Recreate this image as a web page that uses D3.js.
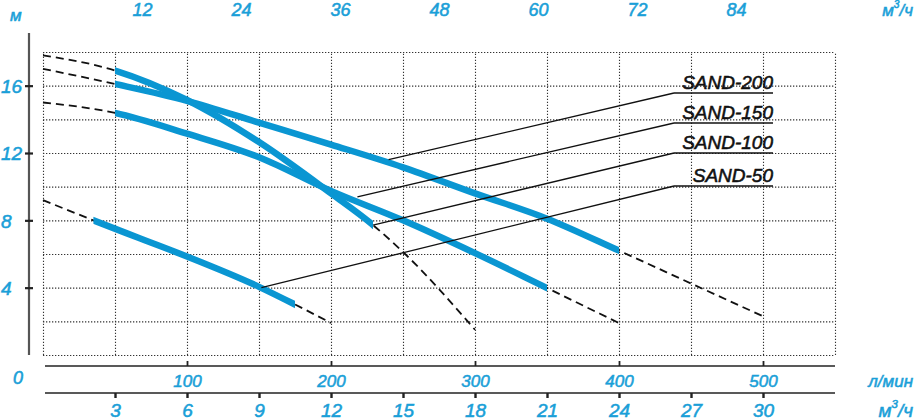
<!DOCTYPE html>
<html><head><meta charset="utf-8">
<script src="https://cdn.jsdelivr.net/npm/d3@7"></script>
<style>
body{margin:0;background:#fff}
text{font-family:"Liberation Sans",Arial,sans-serif;font-style:italic}
</style>
</head><body>
<svg id="c" width="918" height="420"></svg>
<script>
// ---- data (flow in m3/h, head in m) ----
const flowTicks = [3,6,9,12,15,18,21,24,27,30];
const lpmTicks  = [100,200,300,400,500];
const topTicks  = [12,24,36,48,60,72,84];
const headTicks = [4,8,12,16];
const seriesNames = ["SAND-200","SAND-150","SAND-100","SAND-50"];

const sand200Q = [0,3,6,9,12,15,18,21,24,27,30];
const sand200H = [17.0,16.1,15.1,13.8,12.5,11.15,9.6,8.1,6.2,4.25,2.3];
const sand200Work = [3,24];

const sand150Q = [0,3,6,9,12,15,18,21,24];
const sand150H = [15.0,14.38,13.15,11.75,9.75,8.0,6.05,3.98,1.9];
const sand150Work = [3,21];

const sand100Q = [0,3,6,9,12,13.75,15,18];
const sand100H = [17.8,16.9,15.15,12.65,9.6,7.72,6.12,1.5];
const sand100Work = [3,13.75];

const sand50Q = [0,2.1,4,6,9,10.5,12];
const sand50H = [9.2,8.0,6.95,5.85,4.05,3.0,1.9];
const sand50Work = [2.1,10.5];

// leader anchor points on the curves (flow, head)
const leaderQ = [14.4,13.1,13.75,9.1];
const leaderH = [11.6,9.4,7.72,4.0];

// ---- drawing ----
const svg = d3.select("#c");
const blue = "#0a96d2", txtBlue = "#1a9fd8";
const x  = d3.scaleLinear().domain([0,33]).range([43,835]);
const y  = d3.scaleLinear().domain([0,18]).range([355,52]);
const xl = d3.scaleLinear().domain([0,550]).range([43,835]);
const xt = d3.scaleLinear().domain([0,84]).range([43,736]);

function styleText(sel,size,col){
  sel.attr("fill",col).attr("font-size",size)
    .attr("stroke",col).attr("stroke-width",0.55)
    .style("font-family",'"Liberation Sans",Arial,sans-serif').style("font-style","italic");
}

// grid
const gx = svg.append("g").attr("transform","translate(0,355)")
  .call(d3.axisBottom(x).tickValues(d3.range(0,34,3)).tickSize(-(355-52)).tickFormat(""));
const gy = svg.append("g").attr("transform","translate(43,0)")
  .call(d3.axisLeft(y).tickValues(d3.range(0,19,2)).tickSize(-(835-43)).tickFormat(""));
[gx,gy].forEach(g=>{
  g.select(".domain").remove();
  g.selectAll("line").attr("stroke","#333").attr("stroke-width",1.1).attr("stroke-dasharray","1.3,1.7");
});

// left axis
svg.append("line").attr("x1",29).attr("x2",29).attr("y1",33).attr("y2",355)
  .attr("stroke","#555").attr("stroke-width",2.2);
const la = svg.append("g").attr("transform","translate(33,0)")
  .call(d3.axisLeft(y).tickValues(headTicks).tickSize(8).tickFormat(d3.format("d")));
la.select(".domain").remove();
la.selectAll("line").attr("stroke","#222").attr("stroke-width",2.2);
styleText(la.selectAll("text").attr("x",-32).attr("dy","0.36em").attr("text-anchor","start"),19,txtBlue);
styleText(svg.append("text").attr("x",10).attr("y",21).text("м"),17,txtBlue);
styleText(svg.append("text").attr("x",13).attr("y",384).text("0"),18,txtBlue);

// l/min axis
svg.append("line").attr("x1",45).attr("x2",835).attr("y1",366).attr("y2",366).attr("stroke","#222").attr("stroke-width",1.6);
const ma = svg.append("g").attr("transform","translate(0,366)")
  .call(d3.axisTop(xl).tickValues(lpmTicks).tickSize(5).tickFormat(d3.format("d")));
ma.select(".domain").remove();
ma.selectAll("line").attr("stroke","#222").attr("stroke-width",1.8);
styleText(ma.selectAll("text").attr("y",21).attr("dy",0),17,txtBlue);
styleText(svg.append("text").attr("x",913).attr("y",387).attr("text-anchor","end").text("л/мин"),17,txtBlue);

// m3/h bottom axis
svg.append("line").attr("x1",45).attr("x2",835).attr("y1",393).attr("y2",393).attr("stroke","#222").attr("stroke-width",1.6);
const ba = svg.append("g").attr("transform","translate(0,393)")
  .call(d3.axisBottom(x).tickValues(flowTicks).tickSize(5).tickFormat(d3.format("d")));
ba.select(".domain").remove();
ba.selectAll("line").attr("stroke","#222").attr("stroke-width",2.4);
styleText(ba.selectAll("text").attr("y",24).attr("dy",0),19,txtBlue);
function unit(xp,yp,size){
  const t = svg.append("text").attr("x",xp).attr("y",yp).attr("text-anchor","end");
  styleText(t,size,txtBlue);
  t.append("tspan").text("м");
  t.append("tspan").attr("font-size",size*0.6).attr("dy",-size*0.45).text("3");
  t.append("tspan").attr("dy",size*0.45).text("/ч");
}
unit(913,417,19);
unit(913,16,17);

// top axis
const ta = svg.append("g").attr("transform","translate(0,16)")
  .call(d3.axisTop(xt).tickValues(topTicks).tickSize(0).tickFormat(d3.format("d")));
ta.select(".domain").remove();
styleText(ta.selectAll("text").attr("y",0).attr("dy",0),18,txtBlue);

// curves
const series = [
  {Q:sand200Q,H:sand200H,w:sand200Work},
  {Q:sand150Q,H:sand150H,w:sand150Work},
  {Q:sand100Q,H:sand100H,w:sand100Work},
  {Q:sand50Q, H:sand50H, w:sand50Work}
];
const line = d3.line().x(d=>x(d[0])).y(d=>y(d[1])).curve(d3.curveMonotoneX);
const defs = svg.append("defs");
series.forEach((s,i)=>{
  const pts = s.Q.map((q,j)=>[q,s.H[j]]);
  svg.append("path").attr("d",line(pts)).attr("fill","none").attr("stroke","#111")
    .attr("stroke-width",1.8).attr("stroke-dasharray","8,5");
  defs.append("clipPath").attr("id","cw"+i).append("rect")
    .attr("x",x(s.w[0])).attr("width",x(s.w[1])-x(s.w[0])).attr("y",0).attr("height",420);
});
series.forEach((s,i)=>{
  const pts = s.Q.map((q,j)=>[q,s.H[j]]);
  svg.append("path").attr("d",line(pts)).attr("fill","none").attr("stroke",blue)
    .attr("stroke-width",6.5).attr("clip-path","url(#cw"+i+")");
});

// labels with leader lines
const labelY = [93,123,153,186];
seriesNames.forEach((n,i)=>{
  svg.append("line").attr("x1",x(leaderQ[i])).attr("y1",y(leaderH[i])).attr("x2",674).attr("y2",labelY[i])
    .attr("stroke","#111").attr("stroke-width",1.3);
  svg.append("line").attr("x1",674).attr("x2",773).attr("y1",labelY[i]).attr("y2",labelY[i])
    .attr("stroke","#111").attr("stroke-width",1.3);
  styleText(svg.append("text").attr("x",773).attr("y",labelY[i]-4).attr("text-anchor","end").text(n),19,"#111");
});
</script>
</body></html>
